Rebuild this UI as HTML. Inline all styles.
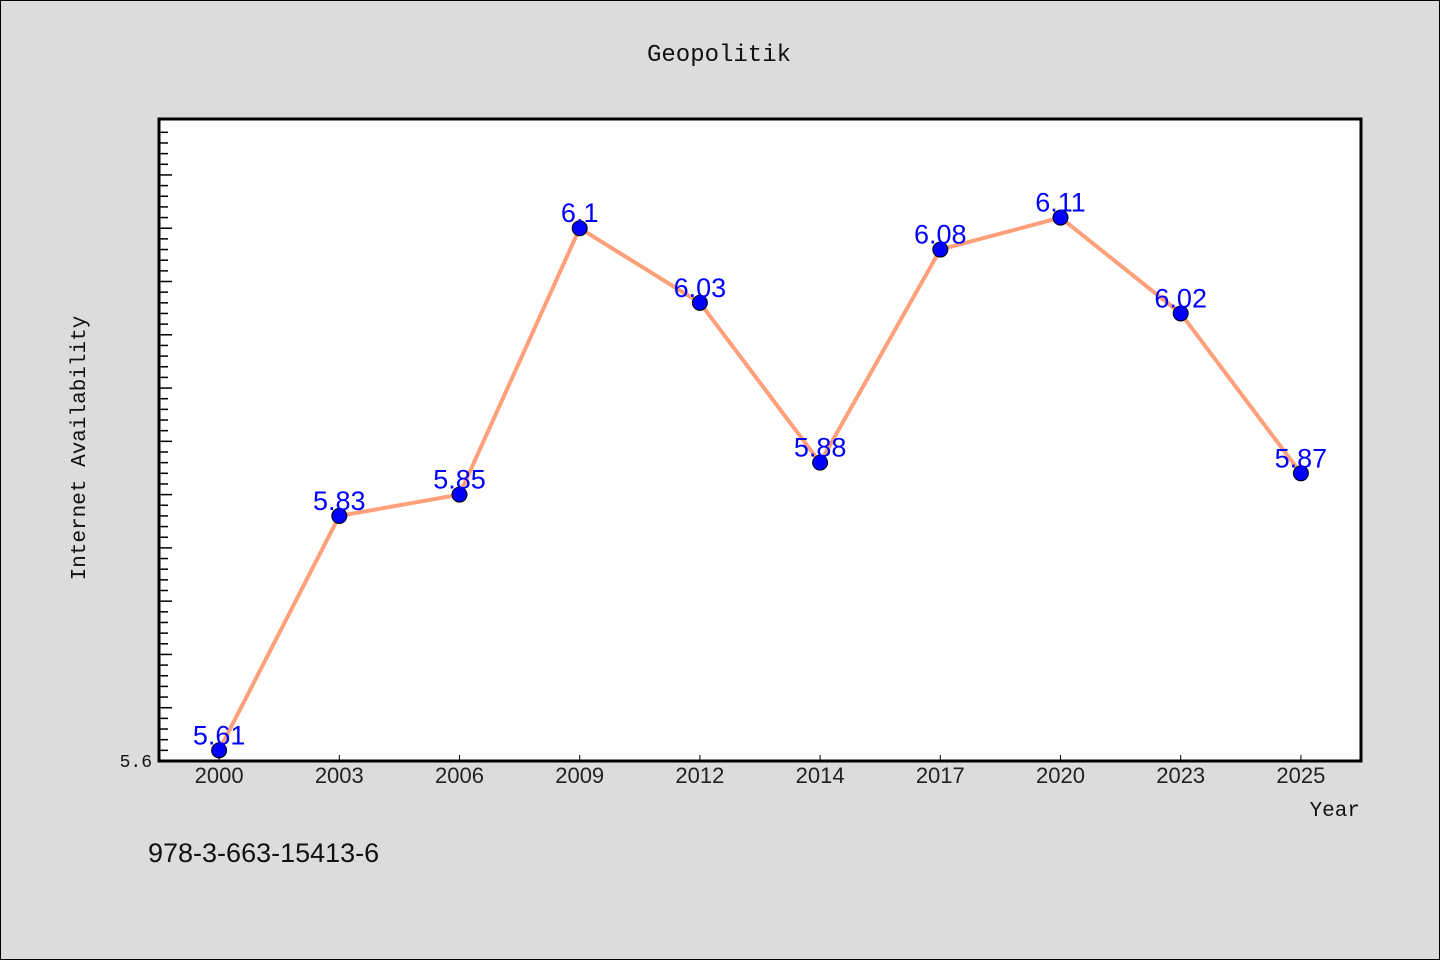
<!DOCTYPE html>
<html><head><meta charset="utf-8"><style>
html,body{margin:0;padding:0;background:#dcdcdc;}
svg{display:block;}
</style></head><body>
<svg width="1440" height="960" xmlns="http://www.w3.org/2000/svg">
<rect x="0.5" y="0.5" width="1439" height="959" fill="#dcdcdc" stroke="#000"/>
<text x="719" y="61" text-anchor="middle" font-family="Liberation Mono, monospace" font-size="24" fill="#111">Geopolitik</text>
<rect x="159" y="119" width="1202" height="642" fill="#fff" stroke="#000" stroke-width="3"/>
<g id="yticks"></g><g id="xticks"></g><g id="series"></g>
<text x="1360" y="816" text-anchor="end" font-family="Liberation Mono, monospace" font-size="21" fill="#111">Year</text>
<text transform="translate(85,448) rotate(-90)" text-anchor="middle" font-family="Liberation Mono, monospace" font-size="21" fill="#111">Internet Availability</text>
<text x="148" y="862" font-family="Liberation Sans, sans-serif" font-size="27" fill="#111">978-3-663-15413-6</text>
</svg>
<script>
const categories=["2000","2003","2006","2009","2012","2014","2017","2020","2023","2025"];
const values=[5.61,5.83,5.85,6.1,6.03,5.88,6.08,6.11,6.02,5.87];
const yLabels=["5.6"];
const NS="http://www.w3.org/2000/svg";
const L=159,R=1361,T=119,B=761,yMin=5.6,yMax=6.2025;
const x=i=>L+(R-L)/categories.length*(i+0.5);
const y=v=>B-(v-yMin)/(yMax-yMin)*(B-T);
function mk(tag,attrs,parent){const e=document.createElementNS(NS,tag);for(const k in attrs)e.setAttribute(k,attrs[k]);parent.appendChild(e);return e;}
const yt=document.getElementById('yticks');
for(let k=0;k<=60;k++){const v=yMin+k*0.01;const yy=y(v);if(yy<T+3)continue;const major=k%5===0;
const t=mk('line',{x1:L,x2:L+(major?13:9),y1:yy,y2:yy,stroke:'#000','stroke-width':1.5},yt);

}
yLabels.forEach(s=>{const t=mk('text',{x:152,y:y(parseFloat(s))+6,'text-anchor':'end','font-family':'Liberation Mono, monospace','font-size':18,fill:'#111'},yt);t.textContent=s;

});
const xt=document.getElementById('xticks');
categories.forEach((c,i)=>{const l=mk('line',{x1:x(i),x2:x(i),y1:B-6,y2:B,stroke:'#000','stroke-width':1},xt);


const t=mk('text',{x:x(i),y:783,'text-anchor':'middle','font-family':'Liberation Sans, sans-serif','font-size':22,fill:'#222'},xt);t.textContent=c;

});
const s=document.getElementById('series');
const pl=mk('polyline',{points:values.map((v,i)=>x(i)+','+y(v)).join(' '),fill:'none',stroke:'#ffa07a','stroke-width':4,'stroke-linejoin':'round'},s);


values.forEach((v,i)=>{const c=mk('circle',{cx:x(i),cy:y(v),r:7.5,fill:'#0000ff',stroke:'#000','stroke-width':1},s);


const t=mk('text',{x:x(i),y:y(v)-6,'text-anchor':'middle','font-family':'Liberation Sans, sans-serif','font-size':27,fill:'#0000ff'},s);t.textContent=String(v);

});
</script>
</body></html>
